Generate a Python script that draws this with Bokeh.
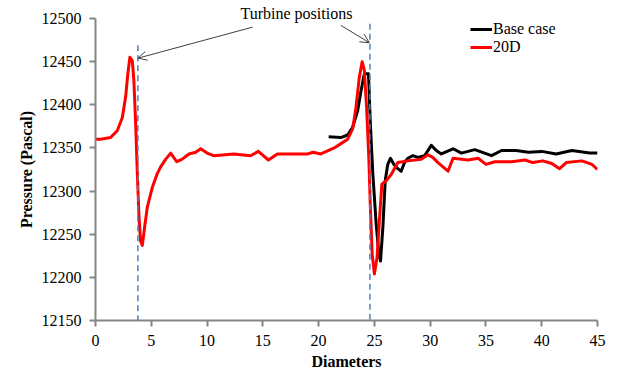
from bokeh.plotting import figure
from bokeh.models import Range1d, FixedTicker, Arrow, OpenHead, Title, Legend, LegendItem
from bokeh.embed import file_html
from bokeh.resources import INLINE

# Pressure along the wind-farm centreline (x in rotor diameters)
base_x = [20.9, 22.0, 22.6, 23.05, 23.5, 23.8, 24.1, 24.47, 24.64, 24.86, 25.16, 25.4, 25.55,
          25.76, 25.97, 26.2, 26.44, 26.74, 27.1, 27.4, 27.7, 28.0, 28.45, 28.9, 29.5, 30.1,
          30.55, 31.0, 32.05, 32.8, 34.0, 35.5, 36.4, 37.7, 38.8, 40.0, 41.3, 42.7, 44.3, 45.0]
base_p = [12363, 12362, 12365, 12374, 12393, 12416, 12436, 12436, 12378, 12320, 12262, 12227,
          12219, 12258, 12312, 12331, 12338, 12331, 12326, 12323, 12333, 12338, 12341, 12339,
          12341, 12353, 12347, 12343, 12349, 12344, 12348, 12341, 12347, 12347, 12345, 12346,
          12343, 12347, 12344, 12344]

d20_x = [0, 0.45, 1.35, 1.95, 2.4, 2.7, 2.9, 3.08, 3.3, 3.44, 3.6, 3.75, 3.9, 4.04, 4.2,
         4.4, 4.64, 5.09, 5.53, 5.84, 6.3, 6.74, 7.28, 7.78, 8.38, 8.98, 9.43, 10.0, 10.6,
         12.4, 13.9, 14.6, 15.5, 16.3, 19.0, 19.5, 20.2, 21.4, 22.0, 22.6, 23.05, 23.35,
         23.65, 23.9, 24.1, 24.3, 24.5, 24.64, 24.8, 25.0, 25.24, 25.45, 25.67, 26.06, 26.5,
         27.1, 28.0, 29.2, 29.8, 30.24, 30.7, 31.6, 32.05, 33.4, 34.3, 35.0, 35.8, 37.3,
         38.5, 39.2, 40.1, 40.9, 41.6, 42.2, 43.6, 44.5, 45.0]
d20_p = [12360, 12360, 12362, 12370, 12385, 12409, 12436, 12455, 12451, 12428, 12378, 12320,
         12270, 12242, 12237, 12258, 12281, 12304, 12320, 12328, 12337, 12344, 12334, 12337,
         12343, 12345, 12349, 12344, 12341, 12343, 12341, 12346, 12336, 12343, 12343, 12345,
         12343, 12350, 12355, 12360, 12372, 12397, 12432, 12450, 12440, 12397, 12339, 12281,
         12227, 12204, 12223, 12266, 12308, 12312, 12319, 12333, 12335, 12337, 12342, 12339,
         12333, 12323, 12338, 12336, 12338, 12331, 12334, 12334, 12336, 12333, 12335, 12332,
         12326, 12333, 12335, 12331, 12325]

turbine_x = [3.8, 24.6]
x_ticks = [0, 5, 10, 15, 20, 25, 30, 35, 40, 45]
y_ticks = [12150, 12200, 12250, 12300, 12350, 12400, 12450, 12500]

FONT = "Liberation Serif"
AXIS_GREY = "#868686"

p = figure(width=618, height=376, output_backend="svg", toolbar_location=None,
           x_range=Range1d(0, 45), y_range=Range1d(12150, 12500),
           min_border_left=95, min_border_right=21, min_border_top=18, min_border_bottom=56)
p.outline_line_color = None
p.grid.visible = False
p.background_fill_color = "white"
p.border_fill_color = "white"

# Callout text sits above the plotting area
p.add_layout(Title(text="Turbine positions", align="left", offset=145, standoff=-6,
                   text_font=FONT, text_font_size="16px", text_font_style="normal",
                   text_color="black"), "above")

for ax, ticks in ((p.xaxis, x_ticks), (p.yaxis, y_ticks)):
    ax.ticker = FixedTicker(ticks=ticks)
    ax.axis_line_color = AXIS_GREY
    ax.axis_line_width = 2
    ax.major_tick_line_color = AXIS_GREY
    ax.major_tick_line_width = 2
    ax.major_tick_out = 6
    ax.major_tick_in = 0
    ax.minor_tick_line_color = None
    ax.major_label_text_font = FONT
    ax.major_label_text_font_size = "16px"
    ax.major_label_text_color = "black"
    ax.axis_label_text_font = FONT
    ax.axis_label_text_font_size = "16px"
    ax.axis_label_text_font_style = "bold"
    ax.axis_label_text_color = "black"

p.xaxis.axis_label = "Diameters"
p.yaxis.axis_label = "Pressure (Pascal)"
p.xaxis.major_label_standoff = 8
p.yaxis.major_label_standoff = 8
p.xaxis.axis_label_standoff = 4
p.yaxis.axis_label_standoff = 4

# Turbine position markers (dashed verticals)
tops = [12469, 12494]
for tx, top in zip(turbine_x, tops):
    p.add_layout(Arrow(end=None, x_start=tx, y_start=top, x_end=tx, y_end=12135,
                       line_color="#4f81bd", line_width=1.5, line_dash="6 4"))

# Pressure curves
r_base = p.line(base_x, base_p, line_color="black", line_width=3, line_join="round")
r_20d = p.line(d20_x, d20_p, line_color="#ff0000", line_width=3, line_join="round")

# Callout arrows
for (xs, ys, xe, ye) in ((14.08, 12490, turbine_x[0], 12454),
                         (22.0, 12492, turbine_x[1] - 0.05, 12472)):
    p.add_layout(Arrow(end=OpenHead(size=9, line_color="#404040", line_width=1),
                       x_start=xs, y_start=ys, x_end=xe, y_end=ye,
                       line_color="#404040", line_width=1))

legend = Legend(items=[LegendItem(label="Base case", renderers=[r_base]),
                       LegendItem(label="20D", renderers=[r_20d])],
                location=(375, 264), orientation="vertical",
                glyph_width=22, glyph_height=16, label_height=16, label_standoff=1,
                spacing=0, padding=0, margin=0,
                label_text_font=FONT, label_text_font_size="16px", label_text_color="black",
                border_line_color=None, background_fill_alpha=0)
p.add_layout(legend)

open("out.html", "w").write(file_html(p, INLINE))
